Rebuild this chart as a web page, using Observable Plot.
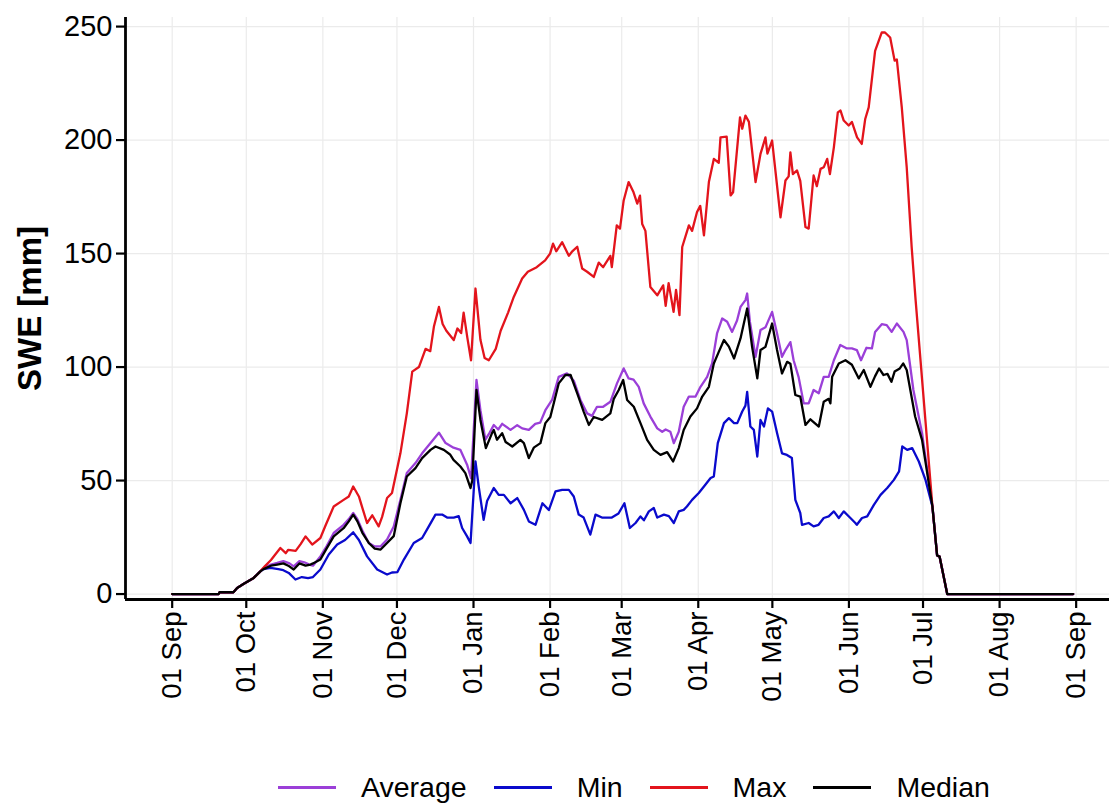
<!DOCTYPE html>
<html>
<head>
<meta charset="utf-8">
<script src="https://cdn.jsdelivr.net/npm/d3@7"></script>
<script src="https://cdn.jsdelivr.net/npm/@observablehq/plot@0.6"></script>
<style>
  html, body { margin: 0; padding: 0; background: #fff; }
  body { width: 1109px; height: 805px; position: relative; overflow: hidden; font-family: "Liberation Sans", Arial, sans-serif; }
  #chart svg { display: block; }
  #legend { position: absolute; top: 767px; left: 278px; display: flex; align-items: center; height: 40px; font-size: 28.5px; color: #000; }
  .sw { width: 58px; height: 3px; margin-right: 25px; }
  .lab { margin-right: 27px; }
</style>
</head>
<body>
<div id="chart"></div>
<div id="legend"></div>
<script>
// ---- data (days since 01 Sep, SWE in mm) ----
const seriesNames = ["Average", "Min", "Max", "Median"];
const seriesColors = ["#9B3FD8", "#0A0ACC", "#E3141C", "#000000"];

const sharedStartDays = [0, 18.8, 19.2, 24.8, 26.3, 29, 33, 35.7];
const sharedStartVals = [0, 0, 0.8, 0.8, 2.7, 4.5, 7.1, 10];
const sharedEndDays = [307.8, 309.7, 310.7, 313.8, 364.8];
const sharedEndVals = [38.6, 17, 16.5, 0, 0];

const maxDays = [37.5, 40, 43.8, 46, 47, 50, 52, 54, 56.7, 60, 62, 65.4, 69.4, 71.5, 73.3, 75.6, 77, 78.9, 81, 83.6, 85, 87, 89, 92.4, 95, 97.2, 99.9, 102.6, 104.5, 106, 108, 109.5, 111, 114, 115.5, 117, 118, 119.5, 121, 122.8, 124.8, 126.5, 128.2, 131, 133, 136, 138.3, 141.7, 144, 147.6, 151, 153, 154.2, 155.5, 157.9, 160.6, 162, 164, 166, 168, 170.7, 172.7, 174.5, 177.4, 178, 180, 181.3, 182.8, 184.8, 186.8, 188.3, 189.4, 190.3, 191.6, 193.6, 196.4, 198.8, 199.8, 201, 203, 204, 205.4, 206.5, 209.2, 210.5, 212.5, 213.8, 215.3, 217.3, 219.3, 221.3, 222, 224.5, 226.1, 227.1, 229.9, 230.8, 232.1, 233.5, 236.2, 238.2, 240.2, 241, 242.9, 246.3, 248.3, 249.6, 250.3, 251.3, 253, 254.3, 256.4, 257.7, 259.7, 261, 262.5, 263.8, 265.2, 266.3, 267.9, 269.5, 270.6, 271.9, 273.9, 275.2, 277.3, 279.2, 280.6, 282, 284.6, 287.3, 288.6, 290.7, 292.5, 293.4, 295.4, 297.4, 299.4, 301];
const maxVals = [12.2, 15, 20.3, 18, 19.5, 19, 22, 25.4, 21.8, 24.7, 30, 38.6, 41.5, 43, 47.4, 43, 38, 31.3, 34.7, 29.8, 34, 42.3, 44.5, 62, 79.6, 98, 100, 108, 107, 118, 126.5, 119, 116, 111.9, 117, 115, 124, 113, 103, 134.6, 112, 104, 103, 108, 116, 124, 130.9, 139, 142, 144, 147, 150, 154.4, 151, 155, 149, 151, 153, 143.4, 142, 139.7, 146, 144, 149, 144, 162.4, 161, 173.4, 181.5, 177, 172, 175.5, 163, 160, 135.3, 131.6, 136, 127, 137, 124.3, 134, 122.9, 152.9, 162.4, 160, 168.3, 171, 158, 181.5, 191.7, 190, 201.2, 201.5, 175.6, 177, 210, 205, 210.8, 208, 181.5, 193.9, 201.2, 194, 199.8, 166, 182.2, 184, 194.6, 185, 186.6, 182, 161.7, 161, 184.4, 179.7, 187.3, 188, 191.7, 185, 196.8, 212.2, 213, 208.6, 206.4, 208, 201.2, 198.3, 209.3, 214.4, 239.3, 247.4, 247.4, 245.2, 235, 235.5, 214.4, 188, 152.9, 129.5];

const avgDays = [37, 40, 42.5, 45, 47.5, 49.2, 51.5, 53.5, 55.5, 57, 60, 62.5, 65.4, 69.4, 71.5, 73.3, 75, 77, 79.6, 82, 84.4, 87, 89.7, 92.4, 95, 98.5, 101.2, 104.6, 108, 110.7, 113.9, 116.7, 119.4, 121, 123.2, 124.8, 126.8, 128.5, 130.2, 132, 133.6, 137, 139.7, 141.7, 144.4, 147, 149, 151.1, 153.8, 156.5, 159.9, 162.6, 165.3, 168, 170, 172, 174.5, 177.4, 180.1, 182.8, 184.8, 186.8, 188.9, 190.9, 193.6, 196.4, 198.4, 199.8, 201.7, 203.1, 205.1, 207.1, 209.2, 211.9, 213.9, 216.6, 218.6, 220.6, 222.7, 224.7, 226.7, 228.7, 230.1, 232.1, 232.8, 233.9, 236.2, 238.2, 240.2, 242.9, 244.9, 246.9, 248.3, 250.3, 251.6, 253.6, 255.7, 257.7, 259.7, 261.8, 263.8, 265.8, 267.9, 270.5, 273.2, 275.2, 277.2, 278.9, 281.1, 283.3, 284.6, 287.3, 289.3, 291.3, 293.4, 296.1, 297.4, 300.1, 303.6];
const avgVals = [11.5, 13, 13.7, 14.5, 13.5, 12.2, 14.5, 14, 13, 12.5, 16.6, 21, 26.9, 30.5, 33, 35.7, 33, 28, 22.5, 21, 21, 24, 29.8, 41.5, 53.3, 57.7, 62, 66.5, 71.1, 66.5, 64.5, 63.5, 57, 51, 94.3, 81, 68, 71, 74.5, 72.5, 75, 72.3, 74.4, 73, 72.3, 75, 75.5, 81, 85.5, 95.7, 97.2, 94, 85.5, 79.6, 78.5, 82.5, 82.5, 84.7, 92.8, 99.4, 95, 94.5, 91.3, 84, 78.2, 73, 71.5, 72.5, 71.5, 66.5, 71.5, 82.5, 87, 87, 91.3, 95.7, 101.6, 114.8, 121.4, 120, 115.5, 120.5, 126.5, 129.5, 132.4, 120, 104.5, 116.3, 117.5, 124.3, 114.8, 104.5, 107.5, 111, 103, 95.7, 84, 84, 89.9, 88.5, 95.7, 95.7, 103, 109.7, 108.2, 108.2, 107.5, 103, 108.5, 108.2, 115.5, 118.9, 118.5, 115.5, 119.2, 115.5, 111.9, 89.9, 70.9];

const medDays = [37, 40, 42.5, 45, 47, 49.2, 51.5, 54, 56, 57, 60, 62.5, 65.4, 69.4, 71.5, 73.3, 75, 77, 79.6, 82, 84.4, 87, 89.7, 92.4, 95, 98.5, 101.2, 104.6, 106.6, 110, 112.5, 113.9, 116.7, 118.7, 120.8, 121.5, 123.2, 124.8, 127, 129.5, 130.2, 131.5, 133.6, 135, 137.7, 141, 142.4, 144.4, 146.4, 149.1, 151.1, 153.1, 156.5, 159.2, 161.3, 164, 166.6, 168.7, 170.7, 174.1, 177.4, 178.8, 180.8, 182.6, 184.2, 186.9, 189.6, 192.3, 195, 197.7, 200.4, 202.8, 205.1, 207.1, 209.8, 212.5, 214.6, 217.3, 219.3, 221.3, 223.4, 225.4, 227.5, 230.1, 232.8, 234.8, 236.9, 238.2, 240.2, 242.9, 244.9, 246.9, 249, 250.3, 252.3, 254.3, 256.4, 258.4, 261.8, 263.8, 265.8, 266.5, 267.2, 269.9, 272.6, 275.2, 278, 280, 282.7, 284.6, 286.2, 288, 289.6, 291.2, 292.5, 294.6, 296, 297.4, 300.8, 303.6];
const medVals = [11, 12.5, 13, 13.5, 12.5, 10.8, 13.5, 12.5, 13, 13.5, 15.2, 20, 25.4, 29, 32, 35, 32, 27, 22.5, 20, 19.6, 22.5, 25.5, 40, 51.8, 55.5, 59.9, 63.5, 65, 63.5, 61.5, 59.1, 56.2, 53.3, 46.7, 50, 89.9, 76.7, 64.3, 70.9, 72.3, 68, 70.9, 67, 65, 67.9, 66.5, 59.9, 64.5, 66.5, 75.3, 78, 92.8, 96.5, 96.5, 88.4, 80.4, 74.5, 78, 76.7, 79.6, 86, 89.9, 94.3, 85.5, 82.5, 75.3, 67.9, 63.5, 61.3, 62.5, 58.4, 64.3, 72.3, 78.2, 81.8, 87, 91.3, 101.6, 106.7, 111.9, 109, 103.8, 112.6, 125.8, 108.9, 95, 107.5, 108.9, 119.2, 107.5, 97.2, 102.3, 101.5, 87.7, 87, 74.5, 77, 73.8, 84.7, 86, 84, 95.7, 101.6, 103, 101, 95, 98.7, 91.3, 96, 99.4, 96.5, 97, 93.5, 98, 99.4, 101.6, 98.7, 78.2, 67.9];

const minDays = [37, 39.8, 43, 45, 47.2, 49.9, 52.5, 55, 57, 60, 63.4, 66.8, 70, 73.3, 75.6, 78.9, 83, 87, 89, 91.2, 93.8, 97.8, 101.2, 103.9, 106.6, 109.3, 111.3, 114, 116, 117.4, 119.4, 120.8, 122.8, 124.1, 126.1, 127.5, 130.2, 132.2, 134.3, 137, 139.7, 142.4, 144.4, 147.1, 149.9, 152.5, 155.2, 157.9, 160.6, 162.6, 164.6, 166.6, 169.3, 171.4, 174, 178, 180.7, 183.1, 185.3, 187.6, 189.6, 191, 193, 195, 196.4, 199.1, 201.1, 203.1, 205.1, 207.1, 208.4, 210.5, 213.2, 215.3, 218, 219.3, 220.9, 223.4, 225.4, 227.5, 228.8, 230.8, 232.1, 232.8, 234.1, 235.5, 236.9, 238.2, 239.6, 241.2, 242.9, 244.9, 246.9, 248.9, 250.9, 252.3, 254.3, 255, 257.7, 259.7, 261.7, 263.8, 265.8, 267.9, 269.9, 271.9, 274.6, 276.6, 277.2, 279.3, 281.4, 284.1, 286.8, 289.5, 292.2, 294.3, 295.6, 297.6, 299.6, 302.3, 305];
const minVals = [11, 11.5, 11, 10.5, 9.3, 6.4, 7.5, 7, 7.5, 10.8, 17.4, 21.8, 23.8, 27.2, 23.8, 16.6, 10.8, 8.6, 9.5, 9.7, 15.2, 22.5, 24.7, 29.8, 35, 35, 33.7, 33.7, 34.3, 29.1, 25.4, 22.5, 58.4, 47.4, 32.7, 41, 46.7, 43.7, 43.7, 40, 42.3, 37.1, 32, 30.5, 40, 37, 45.2, 45.9, 45.9, 43, 35, 33.7, 26.2, 35, 33.7, 33.7, 35.5, 40, 29.1, 31.3, 34.2, 32.5, 36.4, 37.9, 33.7, 35, 34.3, 31.3, 36.4, 37.1, 38.6, 41.5, 44.5, 47.4, 51.1, 51.8, 66.5, 75.3, 77.5, 75.3, 75.3, 80.4, 83, 89.1, 73.8, 72.3, 60.6, 76.7, 73.8, 81.8, 80.4, 70.9, 62, 61.3, 59.9, 41.5, 35.7, 30.5, 31.3, 29.8, 30.5, 33.5, 34.2, 36.4, 33.5, 36.4, 33.5, 31.3, 30.5, 33.5, 34.2, 39.3, 43.7, 46.7, 50.3, 54, 65, 63.5, 64.3, 58.4, 50.3];

const monthTicks = ["2019-09-01","2019-10-01","2019-11-01","2019-12-01","2020-01-01","2020-02-01","2020-03-01","2020-04-01","2020-05-01","2020-06-01","2020-07-01","2020-08-01","2020-09-01"];
const yTicks = [0, 50, 100, 150, 200, 250];

// ---- build table ----
const start = Date.UTC(2019, 8, 1);
const toDate = d => new Date(start + d * 864e5);
const bodies = {Average: [avgDays, avgVals], Min: [minDays, minVals], Max: [maxDays, maxVals], Median: [medDays, medVals]};
const rows = [];
for (const name of seriesNames) {
  const [ds, vs] = bodies[name];
  const days = [...sharedStartDays, ...ds, ...sharedEndDays];
  const vals = [...sharedStartVals, ...vs, ...sharedEndVals];
  days.forEach((d, i) => rows.push({series: name, date: toDate(d), value: vals[i]}));
}
const tickDates = monthTicks.map(s => new Date(s + "T00:00:00Z"));
const xDomain = [toDate(-18.9), toDate(379.5)];
const yDomain = [-2.4, 254];

const chart = Plot.plot({
  width: 1109,
  height: 755,
  marginLeft: 125,
  marginRight: 0,
  marginTop: 17,
  marginBottom: 156,
  style: {fontFamily: "Liberation Sans, Arial, sans-serif", fontSize: "28px", color: "#000", background: "#fff"},
  x: {type: "utc", domain: xDomain},
  y: {domain: yDomain},
  color: {domain: seriesNames, range: seriesColors},
  marks: [
    Plot.gridX(tickDates, {stroke: "#ebebeb", strokeOpacity: 1, strokeWidth: 1.2}),
    Plot.gridY(yTicks, {stroke: "#ebebeb", strokeOpacity: 1, strokeWidth: 1.2}),
    Plot.line(rows, {x: "date", y: "value", z: "series", stroke: "series", strokeWidth: 2.3, strokeLinejoin: "round"}),
    Plot.ruleY([yDomain[0]], {stroke: "#000", strokeWidth: 2.8}),
    Plot.ruleX([xDomain[0]], {stroke: "#000", strokeWidth: 2.8}),
    Plot.axisY({ticks: yTicks, tickSize: 9, tickPadding: 4, strokeWidth: 2.2, label: null, fontSize: 29}),
    Plot.axisX({ticks: tickDates, tickFormat: d3.utcFormat("%d %b"), tickRotate: -90, tickSize: 9, tickPadding: 3, strokeWidth: 2.2, label: null, fontSize: 27.5}),
    Plot.text(["SWE [mm]"], {frameAnchor: "left", textAnchor: "middle", dx: -95, rotate: -90, fontSize: 33, fontWeight: "bold", fill: "#000"})
  ]
});
document.getElementById("chart").appendChild(chart);

// ---- legend ----
const legend = document.getElementById("legend");
seriesNames.forEach((name, i) => {
  const sw = document.createElement("div");
  sw.className = "sw";
  sw.style.background = seriesColors[i];
  const lab = document.createElement("span");
  lab.className = "lab";
  lab.textContent = name;
  legend.appendChild(sw);
  legend.appendChild(lab);
});
</script>
</body>
</html>
